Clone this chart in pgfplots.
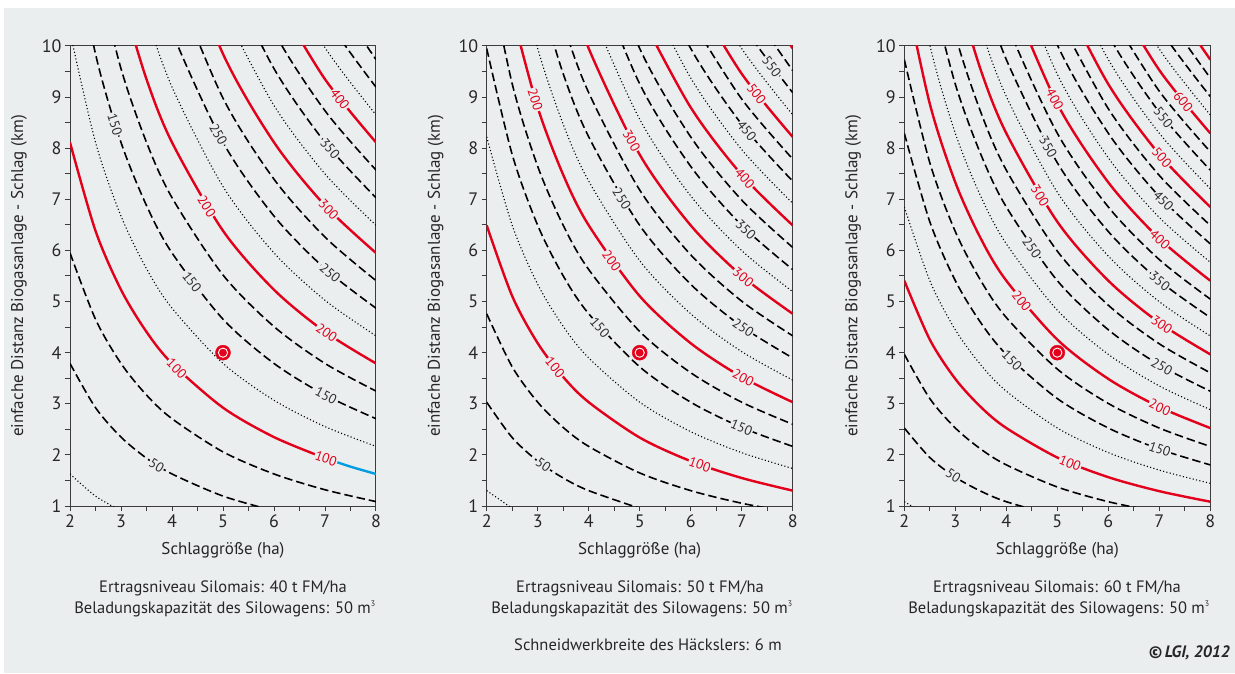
\documentclass[border=0pt]{standalone}
\usepackage{fontspec}
\setmainfont{PT Sans}
\usepackage{pgfplots}
\pgfplotsset{compat=1.18}
\definecolor{bg}{RGB}{235,238,239}
\definecolor{cred}{RGB}{226,0,26}
\definecolor{cblue}{RGB}{0,158,224}
\definecolor{axc}{RGB}{60,60,60}
\definecolor{labc}{RGB}{45,45,45}

\pgfplotsset{
  panel/.style={
    scale only axis, width=306pt, height=460pt,
    xmin=2, xmax=8, ymin=1, ymax=10,
    xtick={2,3,...,8}, ytick={1,2,...,10},
    minor x tick num=1, minor y tick num=1,
    tick align=outside, tick pos=left,
    major tick length=5pt, minor tick length=5pt,
    tick style={axc, line width=1pt},
    axis line style={axc, line width=1pt},
    tick label style={font=\fontsize{18}{20}\selectfont, text=black!85},
    /pgf/number format/assume math mode=true,
    xlabel={Schlaggröße (ha)},
    ylabel={einfache Distanz Biogasanlage - Schlag (km)},
    label style={font=\fontsize{17}{20}\selectfont, text=black!85},
    xlabel style={at={(axis description cs:0.5,-0.0957)}, anchor=center},
    ylabel style={at={(axis description cs:-0.1667,0.5)}, anchor=center},
  },
  dotl/.style={black, line width=1.1pt, dash pattern=on 1.1pt off 2.3pt, smooth},
  dashl/.style={black, line width=1.6pt, dash pattern=on 8.5pt off 4pt, smooth},
  redl/.style={cred, line width=2.4pt, smooth},
}
\tikzset{lab/.style={font=\fontsize{13.5}{15}\selectfont, fill=bg, inner sep=0.8pt, text=labc}}
\newcommand\Dt[1]{\addplot[dotl] coordinates {#1};}
\newcommand\Ds[1]{\addplot[dashl] coordinates {#1};}
\newcommand\Rd[1]{\addplot[redl] coordinates {#1};}
\newcommand\Lb[4]{\node[lab,rotate=#3] at (axis cs:#1,#2) {#4};}
\newcommand\Lr[4]{\node[lab,text=cred,rotate=#3] at (axis cs:#1,#2) {#4};}
\newcommand\Mk{%
  \addplot[only marks,mark=*,mark size=7.5pt,mark options={draw=cred,fill=cred}] coordinates {(5,4)};
  \addplot[only marks,mark=o,mark size=4.6pt,mark options={draw=white,line width=0.9pt}] coordinates {(5,4)};}

\begin{document}
\begin{tikzpicture}
\path[use as bounding box] (0,0) rectangle (1235pt,673pt);
\fill[white] (0,0) rectangle (1235pt,673pt);
\fill[bg] (4pt,0) rectangle (1235pt,665pt);

% ---- 40 t FM/ha ----
\begin{axis}[panel, at={(70pt,167pt)}, anchor=south west]
\Dt{(2,1.627)(2.5,1.194)(3,0.906)}
\Ds{(2,3.789)(2.5,2.924)(3,2.348)(3.5,1.936)(4,1.627)(5,1.194)(6,0.906)}
\Ds{(2,5.952)(2.5,4.654)(3,3.789)(3.5,3.171)(4,2.708)(5,2.059)(6,1.627)(7,1.318)(8,1.086)}
\Rd{(2,8.114)(2.5,6.384)(3,5.231)(3.5,4.407)(4,3.789)(5,2.924)(6,2.348)(7,1.936)}
\addplot[redl,cblue] coordinates {(7,1.936)(7.5,1.770)(8,1.626)};
\Dt{(2,10.277)(2.5,8.115)(3,6.673)(3.5,5.643)(4,4.871)(5,3.790)(6,3.069)(7,2.554)(8,2.167)}
\Ds{(2,12.44)(2.5,9.845)(3,8.115)(3.5,6.879)(4,5.952)(5,4.655)(6,3.789)(7,3.171)(8,2.708)}
\Ds{(2.5,11.575)(3,9.557)(3.5,8.115)(4,7.033)(5,5.520)(6,4.510)(7,3.789)(8,3.248)}
\Rd{(3,10.998)(3.5,9.350)(4,8.114)(5,6.385)(6,5.231)(7,4.407)(8,3.789)}
\Dt{(3.5,10.586)(4,9.196)(5,7.250)(6,5.952)(7,5.025)(8,4.329)}
\Ds{(3.5,11.822)(4,10.277)(5,8.115)(6,6.673)(7,5.643)(8,4.870)}
\Ds{(4,11.358)(5,8.980)(6,7.394)(7,6.261)(8,5.410)}
\Rd{(4,12.44)(5,9.845)(6,8.115)(7,6.879)(8,5.951)}
\Dt{(5,10.710)(6,8.836)(7,7.497)(8,6.492)}
\Ds{(5,11.575)(6,9.557)(7,8.115)(8,7.032)}
\Ds{(5,12.44)(6,10.278)(7,8.733)(8,7.573)}
\Rd{(6,10.998)(7,9.350)(8,8.114)}
\Dt{(6,11.72)(7,9.968)(8,8.654)}
\Ds{(6,12.44)(7,10.586)(8,9.195)}
\Ds{(7,11.204)(8,9.735)}
\Lb{2.88}{8.47}{-72.3}{150}
\Lb{4.91}{8.27}{-60.9}{250}
\Lb{7.10}{7.99}{-50.2}{350}
\Lr{7.29}{8.96}{-52.5}{400}
\Lr{7.07}{6.80}{-46.1}{300}
\Lr{4.68}{6.86}{-57.7}{200}
\Lb{7.10}{5.56}{-40.6}{250}
\Lb{4.39}{5.38}{-53.4}{150}
\Lr{7.03}{4.39}{-35.0}{200}
\Lb{7.02}{3.16}{-27.8}{150}
\Lr{4.09}{3.69}{-45.9}{100}
\Lr{7.02}{1.93}{-19.4}{100}
\Lb{3.70}{1.80}{-32.3}{50}
\Mk
\end{axis}

% ---- 50 t FM/ha ----
\begin{axis}[panel, at={(486.7pt,167pt)}, anchor=south west]
\Dt{(2,1.301)(2.5,0.955)}
\Ds{(2,3.031)(2.5,2.339)(3,1.878)(3.5,1.548)(4,1.301)(5,0.955)}
\Ds{(2,4.761)(2.5,3.723)(3,3.031)(3.5,2.537)(4,2.166)(5,1.647)(6,1.301)(7,1.054)(8,0.869)}
\Rd{(2,6.491)(2.5,5.107)(3,4.185)(3.5,3.525)(4,3.031)(5,2.339)(6,1.878)(7,1.548)(8,1.301)}
\Dt{(2,8.222)(2.5,6.492)(3,5.338)(3.5,4.514)(4,3.897)(5,3.031)(6,2.455)(7,2.043)(8,1.734)}
\Ds{(2,9.952)(2.5,7.876)(3,6.491)(3.5,5.503)(4,4.762)(5,3.723)(6,3.031)(7,2.537)(8,2.166)}
\Ds{(2,11.682)(2.5,9.260)(3,7.645)(3.5,6.491)(4,5.627)(5,4.415)(6,3.608)(7,3.031)(8,2.599)}
\Rd{(2.5,10.644)(3,8.798)(3.5,7.480)(4,6.492)(5,5.107)(6,4.185)(7,3.525)(8,3.031)}
\Dt{(2.5,12.028)(3,9.952)(3.5,8.469)(4,7.357)(5,5.799)(6,4.761)(7,4.020)(8,3.464)}
\Ds{(3,11.105)(3.5,9.457)(4,8.222)(5,6.491)(6,5.338)(7,4.514)(8,3.896)}
\Ds{(3,12.259)(3.5,10.446)(4,9.087)(5,7.183)(6,5.915)(7,5.008)(8,4.329)}
\Rd{(3.5,11.434)(4,9.952)(5,7.875)(6,6.491)(7,5.503)(8,4.761)}
\Dt{(3.5,12.43)(4,10.817)(5,8.567)(6,7.068)(7,5.997)(8,5.194)}
\Ds{(4,11.682)(5,9.259)(6,7.645)(7,6.491)(8,5.626)}
\Ds{(4,12.548)(5,9.951)(6,8.222)(7,6.986)(8,6.059)}
\Rd{(5,10.643)(6,8.798)(7,7.480)(8,6.491)}
\Dt{(5,11.335)(6,9.375)(7,7.974)(8,6.924)}
\Ds{(5,12.027)(6,9.952)(7,8.468)(8,7.356)}
\Ds{(6,10.528)(7,8.963)(8,7.789)}
\Rd{(6,11.105)(7,9.457)(8,8.221)}
\Dt{(6,11.682)(7,9.951)(8,8.654)}
\Ds{(6,12.258)(7,10.446)(8,9.086)}
\Ds{(7,10.940)(8,9.519)}
\Rd{(7,11.434)(8,9.951)}
\Lb{7.59}{9.60}{-52.9}{550}
\Lr{7.29}{9.06}{-52.5}{500}
\Lb{7.10}{8.34}{-51.0}{450}
\Lr{7.06}{7.41}{-48.0}{400}
\Lb{7.08}{6.41}{-44.0}{350}
\Lr{4.84}{8.15}{-60.6}{300}
\Lr{7.03}{5.48}{-40.0}{300}
\Lb{4.65}{7.01}{-58.0}{250}
\Lb{7.03}{4.49}{-35.0}{250}
\Lr{2.95}{8.95}{-72.5}{200}
\Lr{4.45}{5.79}{-54.4}{200}
\Lr{7.03}{3.51}{-29.3}{200}
\Lb{4.22}{4.49}{-49.4}{150}
\Lb{7.00}{2.54}{-23.0}{150}
\Lr{3.34}{3.71}{-51.1}{100}
\Lr{6.18}{1.81}{-19.9}{100}
\Lb{3.11}{1.80}{-35.6}{50}
\Mk
\end{axis}

% ---- 60 t FM/ha ----
\begin{axis}[panel, at={(904.3pt,167pt)}, anchor=south west]
\Dt{(2,1.084)(2.5,0.796)}
\Ds{(2,2.526)(2.5,1.949)(3,1.564)(3.5,1.290)(4,1.084)(5,0.796)}
\Ds{(2,3.968)(2.5,3.102)(3,2.526)(3.5,2.113)(4,1.805)(5,1.372)(6,1.084)(7,0.878)}
\Rd{(2,5.409)(2.5,4.256)(3,3.487)(3.5,2.937)(4,2.526)(5,1.949)(6,1.564)(7,1.290)(8,1.084)}
\Dt{(2,6.851)(2.5,5.409)(3,4.448)(3.5,3.761)(4,3.247)(5,2.526)(6,2.045)(7,1.702)(8,1.444)}
\Ds{(2,8.293)(2.5,6.562)(3,5.409)(3.5,4.585)(4,3.967)(5,3.102)(6,2.526)(7,2.113)(8,1.804)}
\Ds{(2,9.735)(2.5,7.716)(3,6.370)(3.5,5.409)(4,4.688)(5,3.679)(6,3.006)(7,2.525)(8,2.165)}
\Rd{(2,11.176)(2.5,8.869)(3,7.332)(3.5,6.232)(4,5.409)(5,4.256)(6,3.487)(7,2.937)(8,2.525)}
\Dt{(2,12.62)(2.5,10.023)(3,8.293)(3.5,7.056)(4,6.130)(5,4.832)(6,3.967)(7,3.349)(8,2.886)}
\Ds{(2.5,11.176)(3,9.254)(3.5,7.880)(4,6.851)(5,5.409)(6,4.448)(7,3.761)(8,3.246)}
\Ds{(2.5,12.33)(3,10.215)(3.5,8.704)(4,7.572)(5,5.986)(6,4.929)(7,4.173)(8,3.606)}
\Rd{(3,11.176)(3.5,9.528)(4,8.293)(5,6.562)(6,5.409)(7,4.585)(8,3.967)}
\Dt{(3,12.14)(3.5,10.351)(4,9.014)(5,7.139)(6,5.890)(7,4.997)(8,4.327)}
\Ds{(3.5,11.175)(4,9.735)(5,7.716)(6,6.370)(7,5.409)(8,4.688)}
\Ds{(3.5,11.999)(4,10.456)(5,8.293)(6,6.851)(7,5.821)(8,5.048)}
\Rd{(4,11.176)(5,8.869)(6,7.332)(7,6.232)(8,5.408)}
\Dt{(4,11.90)(5,9.446)(6,7.812)(7,6.644)(8,5.769)}
\Ds{(4,12.618)(5,10.023)(6,8.293)(7,7.056)(8,6.129)}
\Ds{(5,10.599)(6,8.773)(7,7.468)(8,6.490)}
\Rd{(5,11.176)(6,9.254)(7,7.880)(8,6.850)}
\Dt{(5,11.75)(6,9.735)(7,8.292)(8,7.210)}
\Ds{(5,12.33)(6,10.215)(7,8.704)(8,7.571)}
\Ds{(6,10.696)(7,9.116)(8,7.931)}
\Rd{(6,11.176)(7,9.528)(8,8.292)}
\Dt{(6,11.657)(7,9.940)(8,8.652)}
\Ds{(6,12.138)(7,10.351)(8,9.012)}
\Ds{(7,10.763)(8,9.373)}
\Rd{(7,11.175)(8,9.733)}
\Lr{7.47}{8.91}{-51.1}{600}
\Lb{7.08}{8.60}{-51.7}{550}
\Lr{7.05}{7.82}{-49.2}{500}
\Lb{7.08}{6.97}{-46.0}{450}
\Lr{4.95}{8.96}{-62.0}{400}
\Lr{7.01}{6.22}{-43.2}{400}
\Lb{4.82}{8.02}{-60.1}{350}
\Lb{7.01}{5.40}{-39.4}{350}
\Lr{4.66}{7.07}{-57.9}{300}
\Lr{7.05}{4.55}{-34.8}{300}
\Lb{4.50}{6.05}{-54.9}{250}
\Lb{7.05}{3.73}{-30.1}{250}
\Lr{4.30}{5.01}{-51.3}{200}
\Lr{7.01}{2.93}{-25.2}{200}
\Lb{4.11}{3.85}{-45.7}{150}
\Lb{7.01}{2.11}{-19.4}{150}
\Lr{5.25}{1.84}{-22.7}{100}
\Lb{2.96}{1.59}{-33.4}{50}
\Mk
\end{axis}

\begin{scope}[every node/.style={font=\fontsize{16.5}{19}\selectfont, text=black!85, inner sep=0pt}]
\node at (223pt,85pt) {Ertragsniveau Silomais: 40 t FM/ha};
\node at (225pt,64pt) {Beladungskapazität des Silowagens: 50 m\textsuperscript{\fontsize{8}{8}\selectfont 3}};
\node at (640pt,85pt) {Ertragsniveau Silomais: 50 t FM/ha};
\node at (642pt,64pt) {Beladungskapazität des Silowagens: 50 m\textsuperscript{\fontsize{8}{8}\selectfont 3}};
\node at (1057pt,85pt) {Ertragsniveau Silomais: 60 t FM/ha};
\node at (1059pt,64pt) {Beladungskapazität des Silowagens: 50 m\textsuperscript{\fontsize{8}{8}\selectfont 3}};
\node at (648pt,28pt) {Schneidwerkbreite des Häckslers: 6 m};
\node[anchor=east] at (1230pt,20pt) {\bfseries\itshape ©\,LGI, 2012};
\end{scope}
\end{tikzpicture}
\end{document}
